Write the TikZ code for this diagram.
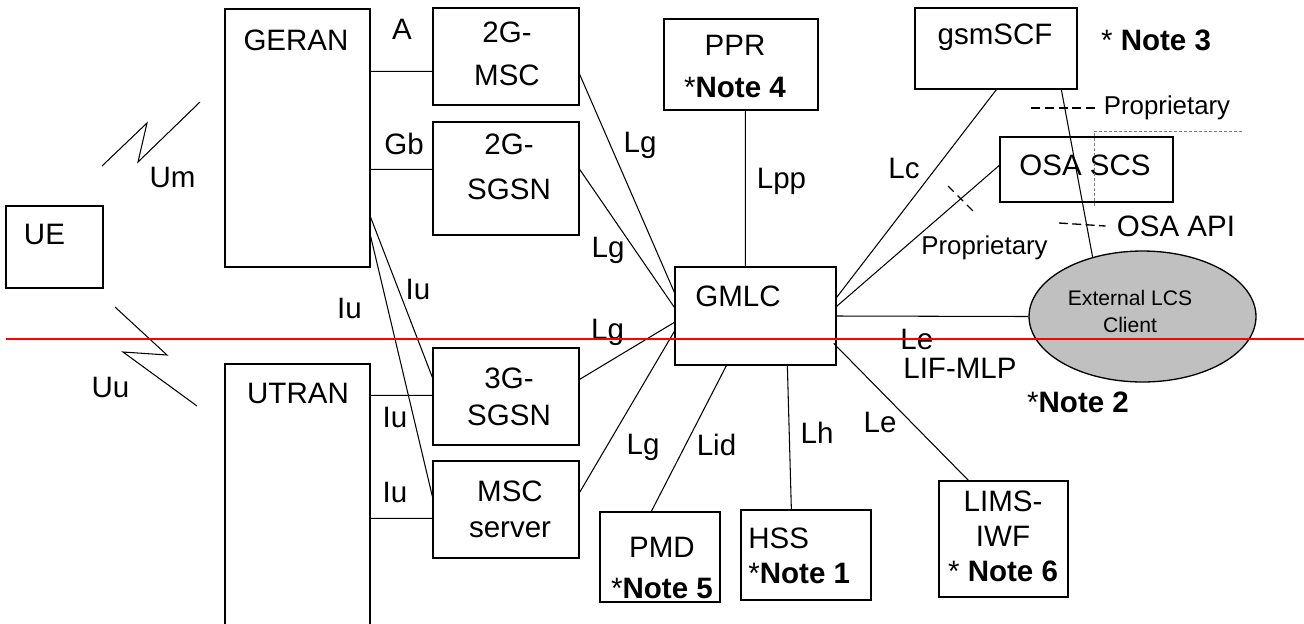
\documentclass[tikz,border=0pt]{standalone}
\usepackage{fontspec}
\setmainfont{Liberation Sans}
\usetikzlibrary{calc,shapes.geometric}
\begin{document}
\begin{tikzpicture}[x=0.02cm,y=-0.02cm,
  box/.style={draw,rectangle,line width=0.75pt,inner sep=0pt},
  conn/.style={line width=0.6pt},
  lbl/.style={inner sep=0pt,font=\fontsize{16.8}{20}\selectfont},
  sml/.style={inner sep=0pt,font=\fontsize{14.7}{18}\selectfont},
  legend/.style={line width=0.75pt,dash pattern=on 0.18cm off 0.095cm}
]
\useasboundingbox (0,0) rectangle (1304,623);
\clip (0,0) rectangle (1304,623);

% boxes
\node[box,minimum width=1.94cm,minimum height=1.64cm] (ue) at (54.5,247) {};
\node[box,minimum width=2.90cm,minimum height=5.16cm] (geran) at (297.5,138) {};
\node[box,minimum width=2.90cm,minimum height=5.52cm] (utran) at (297.5,502) {};
\node[box,minimum width=2.92cm,minimum height=1.94cm] (msc2) at (506,56.5) {};
\node[box,minimum width=2.92cm,minimum height=2.26cm] (sgsn2) at (506,178.5) {};
\node[box,minimum width=2.92cm,minimum height=1.94cm] (sgsn3) at (506,396.5) {};
\node[box,minimum width=2.92cm,minimum height=1.94cm] (mscs) at (506,509.5) {};
\node[box,minimum width=3.08cm,minimum height=1.82cm] (ppr) at (741,64.5) {};
\node[box,minimum width=3.22cm,minimum height=1.96cm] (gmlc) at (755.5,316) {};
\node[box,minimum width=2.40cm,minimum height=1.80cm] (pmd) at (660,557) {};
\node[box,minimum width=2.60cm,minimum height=1.80cm] (hss) at (806,555) {};
\node[box,minimum width=2.58cm,minimum height=2.32cm] (lims) at (1003.5,539) {};
\node[box,minimum width=3.24cm,minimum height=1.62cm] (gsmscf) at (996,48.5) {};
\node[box,minimum width=3.46cm,minimum height=1.30cm] (osa) at (1086.5,169.5) {};
\node[draw,ellipse,line width=0.75pt,fill={rgb,255:red,192;green,192;blue,192},inner sep=0pt,minimum width=4.54cm,minimum height=2.62cm] (lcs) at (1142.5,316.5) {};

% box texts
\node[lbl] (tue) at (44.5,234.5) {UE};
\node[lbl] (tgeran) at (296,40) {GERAN};
\node[lbl] (tutran) at (298,393) {UTRAN};
\node[lbl,align=center,font=\fontsize{16.8}{24.5}\selectfont] (tmsc2) at (507,54) {2G-\\MSC};
\node[lbl,align=center,font=\fontsize{16.8}{25.6}\selectfont] (tsgsn2) at (509,167) {2G-\\SGSN};
\node[lbl,align=center,font=\fontsize{16.8}{21}\selectfont] (tsgsn3) at (509,397) {3G-\\SGSN};
\node[lbl,align=center,font=\fontsize{16.8}{20.5}\selectfont] (tmscs) at (510,509) {MSC\\server};
\node[lbl,align=center,font=\fontsize{16.8}{23.9}\selectfont] (tppr) at (735,66) {PPR\\*\textbf{Note 4}};
\node[lbl] (tgmlc) at (738,296) {GMLC};
\node[lbl,align=center,font=\fontsize{16.8}{22.8}\selectfont] (tpmd) at (662,568) {PMD\\*\textbf{Note 5}};
\node[lbl,align=left,anchor=west,font=\fontsize{16.8}{20}\selectfont] (thss) at (748,556) {HSS\\*\textbf{Note 1}};
\node[lbl,align=center,font=\fontsize{16.8}{19.9}\selectfont] (tlims) at (1003,536) {LIMS-\\IWF\\* \textbf{Note 6}};
\node[lbl] (tgsmscf) at (995,37) {gsmSCF};
\node[lbl] (tosa) at (1085,165) {OSA SCS};
\node[inner sep=0pt,align=center,font=\fontsize{12}{15.4}\selectfont] (tlcs) at (1130,311) {External LCS\\Client};

% notes and legend
\node[lbl] (n3) at (1156,40) {* \textbf{Note 3}};
\node[lbl] (n2) at (1078,402) {*\textbf{Note 2}};
\node[sml] (lgprop) at (1167,108) {Proprietary};
\node[lbl] (lgosa) at (1176,226) {OSA API};
\draw[legend] (1031,108) -- ([xshift=-0.16cm]lgprop.west);
\draw[legend,dash pattern=on 0.18cm off 0.086cm] (1059,223) -- ([xshift=-0.22cm]lgosa.west);
\draw[gray,line width=0.4pt,dash pattern=on 0.06cm off 0.04cm] (1094,206) -- (1094,131) -- (1243,131);

% radio links
\draw[conn] (102,166) -- (147,123) -- (138,162) -- (200,102);
\draw[conn] (115,307) -- (167,355) -- (123,352) -- (197,406);

% connectors
\draw[conn] ($(geran.north east)+(0,63)$) -- ($(msc2.north west)+(0,64)$);
\draw[conn] ($(geran.north east)+(0,161)$) -- ($(sgsn2.north west)+(0,48)$);
\draw[conn] ($(geran.north east)+(0,209)$) -- ($(sgsn3.north west)+(0,30)$);
\draw[conn] ($(geran.north east)+(0,228)$) -- ($(mscs.north west)+(0,36)$);
\draw[conn] ($(utran.north east)+(0,32)$) -- ($(sgsn3.north west)+(0,48)$);
\draw[conn] ($(utran.north east)+(0,155)$) -- ($(mscs.north west)+(0,58)$);
\draw[conn] ($(msc2.north east)+(0,67)$) -- ($(gmlc.north west)+(0,26)$);
\draw[conn] ($(sgsn2.north east)+(0,48)$) -- ($(gmlc.north west)+(0,41)$);
\draw[conn] ($(sgsn3.north east)+(0,32)$) -- ($(gmlc.north west)+(0,56)$);
\draw[conn] ($(mscs.north east)+(0,32)$) -- ($(gmlc.north west)+(0,65)$);
\draw[conn] ($(ppr.south west)+(82,0)$) -- ($(gmlc.north west)+(71,0)$);
\draw[conn] ($(gmlc.south west)+(52,0)$) -- ($(pmd.north west)+(52,0)$);
\draw[conn] ($(gmlc.south west)+(113,0)$) -- ($(hss.north west)+(51,0)$);
\draw[conn] ($(gmlc.north east)+(-3,77)$) -- ($(lims.north west)+(30,0)$);
\draw[conn] (gmlc.east) -- (lcs.west);
\draw[conn] ($(gmlc.north east)+(0,31)$) -- ($(gsmscf.south west)+(82,0)$);
\draw[conn] ($(gmlc.north east)+(0,40)$) -- ($(osa.north west)+(0,29)$);
\draw[conn] ($(gsmscf.south west)+(147,0)$) -- (lcs.130);
\draw[line width=0.75pt,dash pattern=on 0.16cm off 0.11cm] (948,186) -- (973,211);

% interface labels
\node[lbl] (la) at (402,29) {A};
\node[lbl] (lgb) at (404,144) {Gb};
\node[lbl] (lum) at (172.5,177.5) {Um};
\node[lbl] (luu) at (110.5,387.5) {Uu};
\node[lbl] (liu1) at (349.5,308.5) {Iu};
\node[lbl] (liu2) at (418,289) {Iu};
\node[lbl] (liu3) at (395,417) {Iu};
\node[lbl] (liu4) at (395,492) {Iu};
\node[lbl] (llg1) at (640,145) {Lg};
\node[lbl] (llg2) at (608,250) {Lg};
\node[lbl] (llg3) at (607.5,332) {Lg};
\node[lbl] (llg4) at (643,447) {Lg};
\node[lbl] (llpp) at (781.5,181.5) {Lpp};
\node[lbl] (llc) at (904,168) {Lc};
\node[lbl] (llid) at (716.5,445) {Lid};
\node[lbl] (llh) at (817,433) {Lh};
\node[lbl] (lle2) at (880,422) {Le};
\node[lbl,anchor=west] (lle1) at (900,339) {Le};
\node[lbl,anchor=west] (llif) at (903,368) {LIF-MLP};
\node[sml] (lprop) at (984.5,248) {Proprietary};

% red line
\draw[red,line width=0.85pt] (6,339) -- (1304,339);
\end{tikzpicture}
\end{document}
